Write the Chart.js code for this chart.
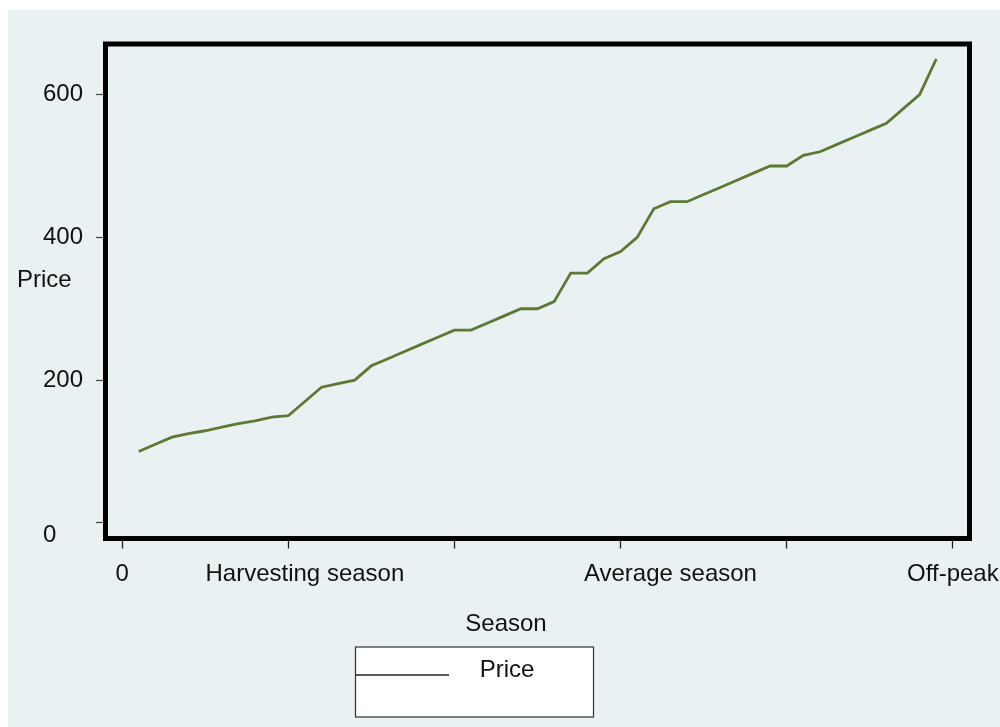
<!DOCTYPE html>
<html>
<head>
<meta charset="utf-8">
<script src="https://cdn.jsdelivr.net/npm/chart.js@4/dist/chart.umd.min.js"></script>
<style>
  html, body { margin: 0; padding: 0; background: #fff; }
  canvas { display: block; }
</style>
</head>
<body>
<canvas id="chart" width="1000" height="727"></canvas>
<script>
const obs = [1, 2, 3, 4, 5, 6, 7, 8, 9, 10,
  11, 12, 13, 14, 15, 16, 17, 18, 19, 20,
  21, 22, 23, 24, 25, 26, 27, 28, 29, 30,
  31, 32, 33, 34, 35, 36, 37, 38, 39, 40,
  41, 42, 43, 44, 45, 46, 47, 48, 49];
const price = [100, 110, 120, 125, 129, 134, 139, 143, 148, 150,
  170, 190, 195, 200, 220, 230, 240, 250, 260, 270,
  270, 280, 290, 300, 300, 310, 350, 350, 370, 380,
  400, 440, 450, 450, 460, 470, 480, 490, 500, 500,
  515, 520, 530, 540, 550, 560, 580, 600, 650];

const yTicks = [0, 200, 400, 600];
const xTickMarks = [0, 10, 20, 30, 40, 50];
const xLabelAt = [0, 11, 33, 50];
const xLabelText = ['0', 'Harvesting season', 'Average season', 'Off-peak'];
const xTitle = 'Season';
const yTitle = 'Price';
const seriesName = 'Price';

const TXT = '#111';
const FONT = '24px "Liberation Sans", Arial, sans-serif';

Chart.defaults.font.family = '"Liberation Sans", Arial, sans-serif';
Chart.defaults.font.size = 24;
Chart.defaults.color = TXT;

// page background, plot frame, titles and the boxed legend
const stataLook = {
  id: 'stataLook',
  beforeDraw(chart) {
    const c = chart.ctx;
    c.save();
    c.fillStyle = '#ffffff';
    c.fillRect(0, 0, chart.width, chart.height);
    c.fillStyle = '#e9f1f3';
    c.fillRect(8, 10, chart.width - 8, chart.height - 10);
    c.restore();
  },
  afterDraw(chart) {
    const c = chart.ctx;
    const a = chart.chartArea;
    const y = chart.scales.y;
    c.save();
    c.strokeStyle = '#000';
    c.lineWidth = 5;
    c.strokeRect(a.left, a.top, a.right - a.left, a.bottom - a.top);

    c.font = FONT;
    c.fillStyle = TXT;
    c.textBaseline = 'middle';
    c.textAlign = 'left';
    // the zero label sits a bit below its tick in the original
    c.fillText(String(yTicks[0]), 43, y.getPixelForValue(yTicks[0]) + 13);
    c.fillText(yTitle, 17, 280);
    c.textAlign = 'center';
    c.fillText(xTitle, 506, 624);

    // legend
    c.fillStyle = '#fff';
    c.fillRect(355.5, 647, 238, 70);
    c.strokeStyle = '#333';
    c.lineWidth = 1.2;
    c.strokeRect(355.5, 647, 238, 70);
    c.strokeStyle = '#222';
    c.lineWidth = 1.5;
    c.beginPath();
    c.moveTo(356, 675);
    c.lineTo(449, 675);
    c.stroke();
    c.fillStyle = TXT;
    c.fillText(chart.data.datasets[0].label, 507, 670);
    c.restore();
  }
};

new Chart(document.getElementById('chart'), {
  type: 'line',
  data: {
    datasets: [{
      label: seriesName,
      data: obs.map((o, i) => ({ x: o, y: price[i] })),
      borderColor: '#5c7a34',
      borderWidth: 2.8,
      pointRadius: 0,
      tension: 0,
      fill: false
    }]
  },
  options: {
    responsive: false,
    animation: false,
    layout: { padding: { left: 43, right: 30.5, top: 44, bottom: 128.5 } },
    plugins: {
      legend: { display: false },
      tooltip: { enabled: false }
    },
    scales: {
      x: {
        type: 'linear',
        min: -1,
        max: 51,
        afterBuildTicks: s => {
          const vals = Array.from(new Set(xTickMarks.concat(xLabelAt))).sort((p, q) => p - q);
          s.ticks = vals.map(v => ({ value: v }));
        },
        afterFit: s => {
          s.height = 60;
          s.paddingLeft = 0;
          s.paddingRight = 0;
        },
        border: { display: false },
        grid: {
          drawOnChartArea: false,
          drawTicks: true,
          tickLength: 10,
          tickWidth: 1.3,
          tickColor: ctx => (ctx.tick && xTickMarks.includes(ctx.tick.value)) ? '#222' : 'rgba(0,0,0,0)'
        },
        ticks: {
          autoSkip: false,
          maxRotation: 0,
          minRotation: 0,
          padding: 11,
          color: TXT,
          callback: v => {
            const k = xLabelAt.indexOf(v);
            return k >= 0 ? xLabelText[k] : '';
          }
        }
      },
      y: {
        min: -22,
        max: 671,
        afterBuildTicks: s => {
          s.ticks = yTicks.map(v => ({ value: v }));
        },
        afterFit: s => {
          s.width = 62.5;
          s.paddingTop = 0;
          s.paddingBottom = 0;
        },
        border: { display: false },
        grid: {
          drawOnChartArea: false,
          drawTicks: true,
          tickLength: 9.5,
          tickWidth: 1.2,
          tickColor: '#444'
        },
        ticks: {
          crossAlign: 'far',
          color: TXT,
          callback: v => (v === yTicks[0] ? '' : String(v))
        }
      }
    }
  },
  plugins: [stataLook]
});
</script>
</body>
</html>
